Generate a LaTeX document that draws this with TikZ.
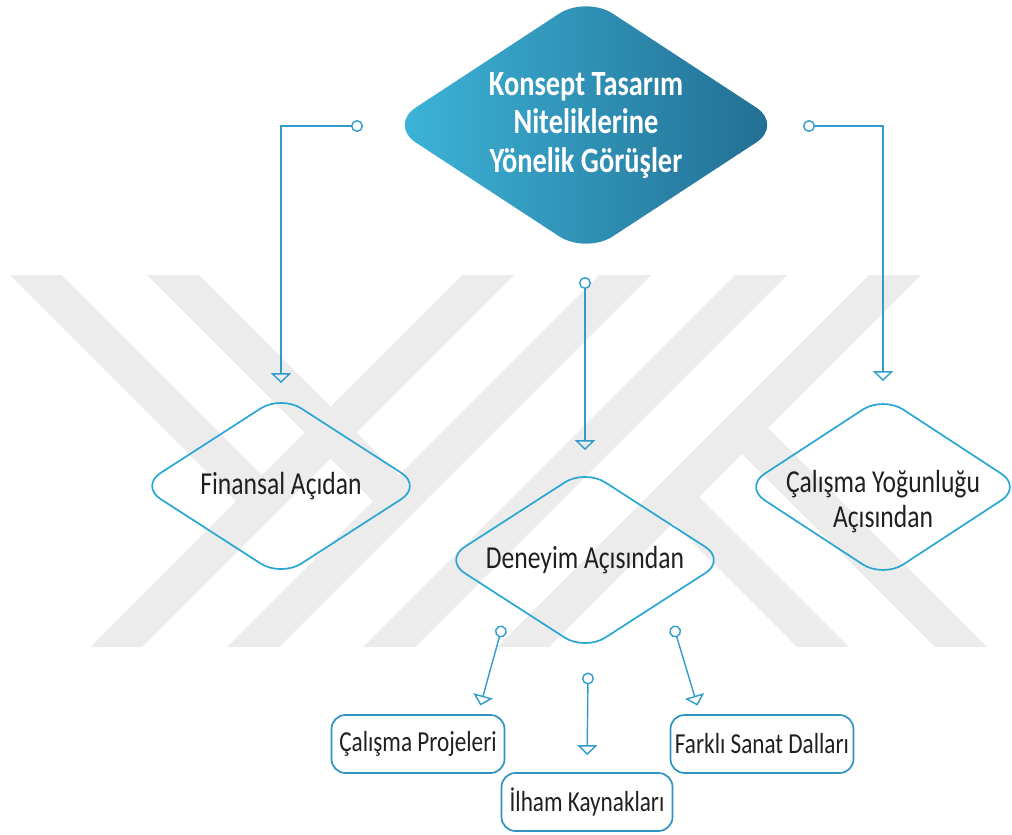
\documentclass[tikz,border=0pt]{standalone}
\usepackage{fontspec}
\setmainfont[FakeStretch=0.8]{Carlito}
\usetikzlibrary{shapes.geometric,arrows.meta}

\definecolor{wmgray}{gray}{0.925}
\definecolor{rimblue}{HTML}{29A6D4}
\definecolor{linkblue}{HTML}{2F9CCB}
\definecolor{boxblue}{HTML}{2E92C2}
\definecolor{inkgray}{HTML}{231F20}
\definecolor{headlight}{HTML}{3DB6D9}
\definecolor{headmid}{HTML}{0A8AC1}
\definecolor{headdark}{HTML}{226C91}

\tikzset{
  wmark/.style={fill=wmgray, draw=none},
  choice/.style={diamond, draw=rimblue, line width=1.7pt, rounded corners=24pt,
    inner sep=0pt, minimum width=282pt, minimum height=182pt},
  choicetext/.style={text=inkgray, align=center, font=\fontsize{32}{35}\selectfont},
  item/.style={rectangle, draw=boxblue, line width=1.7pt, rounded corners=14pt,
    minimum height=58pt, text=inkgray, font=\fontsize{29}{34}\selectfont},
  link/.style={draw=linkblue, line width=1.4pt,
    {Circle[open,length=12pt,width=12pt]}-{Triangle[open,length=10pt,width=20pt]}},
}

\begin{document}
\begin{tikzpicture}[x=1pt,y=-1pt]
  \useasboundingbox (0,0) rectangle (1012,835);

  % watermark
  \fill[wmark] (90,647) -- (142,647) -- (514,275) -- (462,275) -- cycle;
  \fill[wmark] (227,647) -- (279,647) -- (651,275) -- (599,275) -- cycle;
  \fill[wmark] (363,647) -- (415,647) -- (787,275) -- (735,275) -- cycle;
  \fill[wmark] (497,647) -- (549,647) -- (921,275) -- (869,275) -- cycle;
  \fill[wmark] (10,275) -- (62,275) -- (288,501) -- (236,501) -- cycle;
  \fill[wmark] (147,275) -- (199,275) -- (425,501) -- (373,501) -- cycle;
  \fill[wmark] (716,428) -- (768,428) -- (987,647) -- (935,647) -- cycle;
  \fill[wmark] (647,497) -- (699,497) -- (849,647) -- (797,647) -- cycle;

  \node[diamond, rounded corners=32pt, inner sep=0pt, minimum width=394pt, minimum height=258pt,
    left color=headlight, middle color=headmid, right color=headdark,
    label={[text=white, align=center, font=\bfseries\fontsize{35.5}{38.5}\selectfont]center:Konsept Tasarım\\Niteliklerine\\Yönelik Görüşler}]
    (top) at (586,125) {};

  \node[choice, label={[choicetext]center:Finansal Açıdan}] (fin) at (281,486) {};
  \node[choice, label={[choicetext]center:Deneyim Açısından}] (den) at (585,560) {};
  \node[choice, minimum width=278pt, label={[choicetext, yshift=-15pt]center:Çalışma Yoğunluğu\\Açısından}] (yog) at (883,487) {};

  \node[item, minimum width=173pt] (proj) at (418,744) {Çalışma Projeleri};
  \node[item, minimum width=171pt] (ilham) at (587,802) {İlham Kaynakları};
  \node[item, minimum width=183pt] (sanat) at (762,744) {Farklı Sanat Dalları};

  \coordinate (dotL) at (363,126);
  \coordinate (dotR) at (803,126);
  \coordinate (dotM) at (585,277);
  \coordinate (dotA) at (502.5,625.7);
  \coordinate (dotB) at (588,672.5);
  \coordinate (dotC) at (673.4,625.7);

  \draw[link, shorten >=11pt] (dotL) -| (fin);
  \draw[link, shorten >=14pt] (dotR) -| (yog);
  \draw[link, shorten >=18pt] (dotM) -- (den);
  \draw[link, shorten >=9pt] (dotA) -- ([xshift=60pt]proj.north);
  \draw[link, shorten >=17pt] (dotB) -- (ilham.north);
  \draw[link, shorten >=9pt] (dotC) -- ([xshift=-62pt]sanat.north);
\end{tikzpicture}
\end{document}
